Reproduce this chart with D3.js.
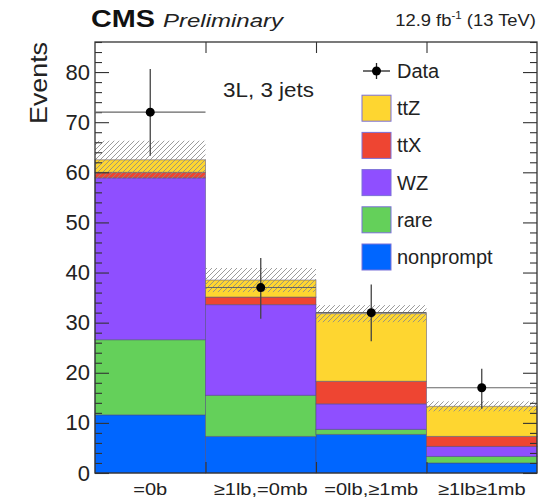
<!DOCTYPE html>
<html>
<head>
<meta charset="utf-8">
<script src="https://cdn.jsdelivr.net/npm/d3@7"></script>
<style>
  html, body { margin: 0; padding: 0; background: #fff; }
  svg { display: block; font-family: "Liberation Sans", Arial, Helvetica, sans-serif; }
</style>
</head>
<body>
<svg id="chart" width="546" height="498"></svg>
<script>
// Signal-region bins and stacked background yields (events)
const categories = ["=0b", "≥1lb,=0mb", "=0lb,≥1mb", "≥1lb≥1mb"];
const nonprompt  = [11.6, 7.3, 7.7, 2.0];
const rare       = [15.0, 8.2, 1.0, 1.3];
const WZ         = [32.3, 18.1, 5.1, 2.0];
const ttX        = [1.1, 1.5, 4.5, 2.0];
const ttZ        = [2.5, 3.4, 13.5, 6.0];
// Total uncertainty on the stacked prediction (half-width)
const totalUnc   = [3.8, 2.4, 1.7, 1.0];
// Observed data with error bars
const dataCounts = [72, 37, 32, 17];
const dataErrLo  = [8.7, 6.2, 5.7, 4.2];
const dataErrHi  = [8.6, 5.9, 5.6, 3.8];
// Axis ticks
const yMajorTicks = [0, 10, 20, 30, 40, 50, 60, 70, 80];
const yMinorTicks = d3.range(0, 87, 2).filter(v => v % 10 !== 0);

const seriesKeys   = ["nonprompt", "rare", "WZ", "ttX", "ttZ"];
const seriesColors = { ttZ: "#fed630", ttX: "#ee4532", WZ: "#8f4fff", rare: "#64d05a", nonprompt: "#0066ff" };
const legendOrder  = ["ttZ", "ttX", "WZ", "rare", "nonprompt"];

const table = categories.map((c, i) => ({
  bin: i, nonprompt: nonprompt[i], rare: rare[i], WZ: WZ[i], ttX: ttX[i], ttZ: ttZ[i]
}));

const L = 95, R = 537, T = 42, B = 473;
const x = d3.scaleLinear().domain([0, categories.length]).range([L, R]);
const y = d3.scaleLinear().domain([0, 86]).range([B, T]);

const svg = d3.select("#chart");

// hatch for the prediction uncertainty
const defs = svg.append("defs");
const pat = defs.append("pattern")
  .attr("id", "hatch").attr("patternUnits", "userSpaceOnUse")
  .attr("width", 5).attr("height", 5);
pat.append("path")
  .attr("d", "M-1,1 l2,-2 M0,5 l5,-5 M4,6 l2,-2")
  .attr("stroke", "#8a8a8a").attr("stroke-width", 0.85);

// stacked histograms
const stacked = d3.stack().keys(seriesKeys)(table);
const layers = svg.append("g");
stacked.forEach(layer => {
  layers.append("g").selectAll("rect").data(layer).join("rect")
    .attr("x", d => x(d.data.bin))
    .attr("width", d => x(d.data.bin + 1) - x(d.data.bin))
    .attr("y", d => y(d[1]))
    .attr("height", d => y(d[0]) - y(d[1]))
    .attr("fill", seriesColors[layer.key])
    .attr("stroke", "#4a4878").attr("stroke-opacity", 0.5).attr("stroke-width", 1);
});

// uncertainty band on the total
const totals = table.map((d, i) => seriesKeys.reduce((s, k) => s + d[k], 0));
svg.append("g").selectAll("rect").data(totals).join("rect")
  .attr("x", (t, i) => x(i))
  .attr("width", (t, i) => x(i + 1) - x(i))
  .attr("y", (t, i) => y(t + totalUnc[i]))
  .attr("height", (t, i) => y(t - totalUnc[i]) - y(t + totalUnc[i]))
  .attr("fill", "url(#hatch)");

// axes: inward ticks on all four sides
function styleAxis(g) {
  g.select(".domain").remove();
  g.selectAll(".tick line").attr("stroke", "#333").attr("stroke-width", 1.1);
}
svg.append("g").attr("transform", `translate(${L},0)`)
  .call(d3.axisLeft(y).tickValues(yMajorTicks).tickSize(-14).tickPadding(5))
  .call(styleAxis)
  .call(g => g.selectAll(".tick text")
    .attr("font-size", 22).attr("fill", "#222")
    .attr("font-family", "Liberation Sans, Arial, sans-serif"));
svg.append("g").attr("transform", `translate(${L},0)`)
  .call(d3.axisLeft(y).tickValues(yMinorTicks).tickSize(-7).tickFormat(""))
  .call(styleAxis);
svg.append("g").attr("transform", `translate(${R},0)`)
  .call(d3.axisRight(y).tickValues(yMajorTicks).tickSize(-14).tickFormat(""))
  .call(styleAxis);
svg.append("g").attr("transform", `translate(${R},0)`)
  .call(d3.axisRight(y).tickValues(yMinorTicks).tickSize(-7).tickFormat(""))
  .call(styleAxis);
const binEdges = d3.range(1, categories.length);
svg.append("g").attr("transform", `translate(0,${B})`)
  .call(d3.axisBottom(x).tickValues(binEdges).tickSize(-11).tickFormat(""))
  .call(styleAxis);
svg.append("g").attr("transform", `translate(0,${T})`)
  .call(d3.axisTop(x).tickValues(binEdges).tickSize(-11).tickFormat(""))
  .call(styleAxis);

// frame
svg.append("rect")
  .attr("x", L).attr("y", T).attr("width", R - L).attr("height", B - T)
  .attr("fill", "none").attr("stroke", "#333").attr("stroke-width", 1.3);

// bin labels
svg.append("g").selectAll("text").data(categories).join("text")
  .attr("transform", (c, i) => `translate(${x(i + 0.5)},495) scale(1.18,1)`)
  .attr("text-anchor", "middle").attr("font-size", 17).attr("fill", "#222")
  .text(c => c);

// observed data
const dataG = svg.append("g");
dataCounts.forEach((n, i) => {
  const cx = (x(i) + x(i + 1)) / 2;
  dataG.append("line")
    .attr("x1", x(i)).attr("x2", x(i + 1)).attr("y1", y(n)).attr("y2", y(n))
    .attr("stroke", "#666").attr("stroke-width", 1.1);
  dataG.append("line")
    .attr("x1", cx).attr("x2", cx).attr("y1", y(n + dataErrHi[i])).attr("y2", y(n - dataErrLo[i]))
    .attr("stroke", "#444").attr("stroke-width", 1.3);
  dataG.append("circle").attr("cx", cx).attr("cy", y(n)).attr("r", 4.5).attr("fill", "#000");
});

// legend
const leg = svg.append("g");
const rowY = i => 71 + i * 37.2;
leg.append("line").attr("x1", 363).attr("x2", 390).attr("y1", rowY(0)).attr("y2", rowY(0))
  .attr("stroke", "#222").attr("stroke-width", 1.3);
leg.append("line").attr("x1", 376.5).attr("x2", 376.5).attr("y1", rowY(0) - 8).attr("y2", rowY(0) + 8)
  .attr("stroke", "#222").attr("stroke-width", 1.3);
leg.append("circle").attr("cx", 376.5).attr("cy", rowY(0)).attr("r", 4.5).attr("fill", "#000");
leg.append("text").attr("x", 397).attr("y", rowY(0) + 7).attr("font-size", 20).attr("fill", "#222").text("Data");
legendOrder.forEach((k, j) => {
  const cy = rowY(j + 1);
  leg.append("rect").attr("x", 362).attr("y", cy - 13).attr("width", 29).attr("height", 26)
    .attr("fill", seriesColors[k]).attr("stroke", "#7b70d8").attr("stroke-width", 1);
  leg.append("text").attr("x", 397).attr("y", cy + 7).attr("font-size", 20).attr("fill", "#222").text(k);
});

// region label
svg.append("text").attr("x", 223).attr("y", 97).attr("font-size", 20).attr("fill", "#222")
  .attr("textLength", 91).attr("lengthAdjust", "spacingAndGlyphs").text("3L, 3 jets");

// header
svg.append("text").attr("x", 91).attr("y", 27).attr("font-size", 23).attr("font-weight", "bold")
  .attr("fill", "#111").attr("textLength", 64).attr("lengthAdjust", "spacingAndGlyphs").text("CMS");
svg.append("text").attr("x", 163).attr("y", 27).attr("font-size", 19).attr("font-style", "italic")
  .attr("fill", "#222").attr("textLength", 120).attr("lengthAdjust", "spacingAndGlyphs").text("Preliminary");
const lumi = svg.append("text")
  .attr("transform", "translate(536,26) scale(1.15,1)")
  .attr("text-anchor", "end").attr("font-size", 16).attr("fill", "#222");
lumi.append("tspan").text("12.9 fb");
lumi.append("tspan").attr("font-size", 10).attr("dy", -7).text("-1");
lumi.append("tspan").attr("dy", 7).text(" (13 TeV)");

// y title
svg.append("text")
  .attr("transform", "translate(47,42) rotate(-90)")
  .attr("text-anchor", "end").attr("font-size", 24).attr("fill", "#222")
  .attr("textLength", 82).attr("lengthAdjust", "spacingAndGlyphs").text("Events");
</script>
</body>
</html>
